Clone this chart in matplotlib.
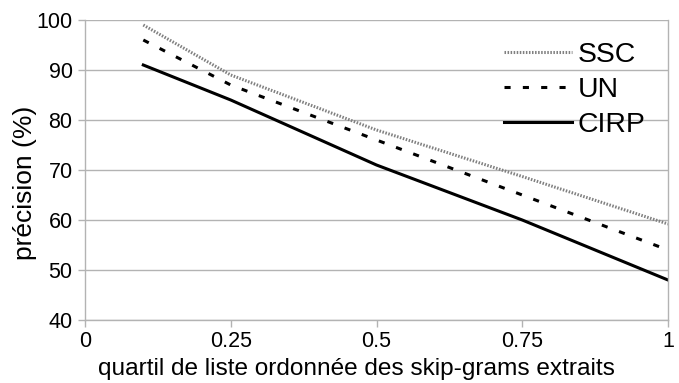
import matplotlib
matplotlib.use("Agg")
import matplotlib.pyplot as plt

quartiles = [0.1, 0.25, 0.5, 0.75, 1.0]
ssc = [99, 89, 78, 68.7, 59.2]
un = [96, 87, 76, 65, 54]
cirp = [91, 84, 71, 60, 48]
xticks = [0, 0.25, 0.5, 0.75, 1]
xticklabels = ["0", "0.25", "0.5", "0.75", "1"]
yticks = [40, 50, 60, 70, 80, 90, 100]

plt.rcParams['font.family'] = ['Liberation Sans', 'DejaVu Sans']

fig = plt.figure(figsize=(6.79, 3.83), dpi=100)
ax = fig.add_axes([85/679, 1-320/383, 583/679, 300/383])

grid_c = '#b3b3b3'
ax.set_xlim(0, 1)
ax.set_ylim(40, 100)
ax.set_yticks(yticks)
ax.set_xticks(xticks)
ax.set_xticklabels(xticklabels)
ax.grid(axis='y', color=grid_c, linewidth=1)
ax.set_axisbelow(True)
for s in ['left', 'bottom', 'right']:
    ax.spines[s].set_color(grid_c)
    ax.spines[s].set_linewidth(1)
ax.spines['top'].set_visible(False)
ax.tick_params(axis='both', colors=grid_c, labelcolor='black', labelsize=15.5,
               length=5, width=1, direction='out')
ax.tick_params(axis='y', pad=4)
ax.tick_params(axis='x', pad=3)

ax.plot(quartiles, ssc, color='#808080', linewidth=2.2, linestyle=(0, (0.5, 0.5)),
        dash_capstyle='butt', label='SSC')
ax.plot(quartiles, un, color='black', linewidth=2.2, linestyle=(0, (2.0, 4.0)),
        dash_capstyle='butt', label='UN')
ax.plot(quartiles, cirp, color='black', linewidth=2.2, linestyle='-', label='CIRP')

ax.set_ylabel('précision (%)', fontsize=19)
ax.yaxis.set_label_coords(-0.082, 0.457)
ax.set_xlabel('quartil de liste ordonnée des skip-grams extraits', fontsize=17.6, labelpad=4)
ax.xaxis.label.set_x(0.465)

leg = ax.legend(loc='upper left', bbox_to_anchor=((504-85)/583, (320-42)/300),
                frameon=False, fontsize=20.4, handlelength=2.4, handletextpad=0.2,
                labelspacing=0.32, borderpad=0, borderaxespad=0)

fig.savefig('out.png', dpi=100)
